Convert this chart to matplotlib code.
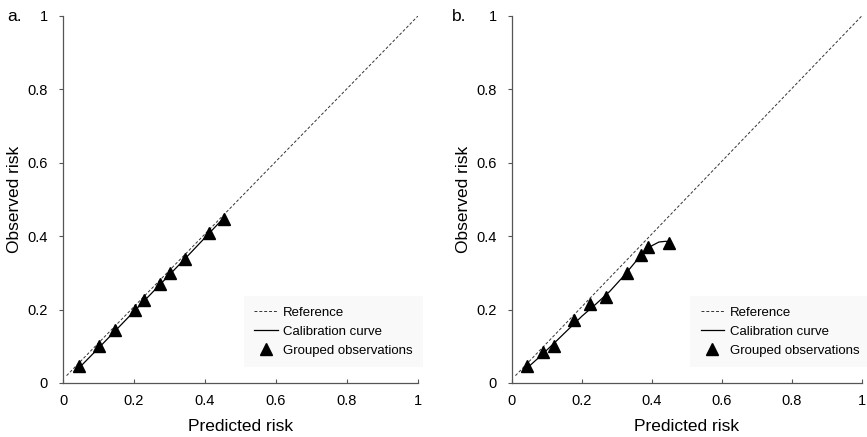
import matplotlib
matplotlib.use("Agg")
import matplotlib.pyplot as plt

plt.rcParams['font.family'] = ['Liberation Sans', 'DejaVu Sans']

# panel a: grouped observations and calibration curve
obs_a_x = [0.046, 0.101, 0.146, 0.202, 0.228, 0.272, 0.302, 0.343, 0.411, 0.452]
obs_a_y = [0.045, 0.100, 0.145, 0.199, 0.225, 0.270, 0.299, 0.338, 0.408, 0.448]
cal_a_x = [0.04, 0.10, 0.15, 0.20, 0.25, 0.30, 0.35, 0.40, 0.45]
cal_a_y = [0.036, 0.095, 0.145, 0.195, 0.245, 0.295, 0.345, 0.396, 0.447]

# panel b
obs_b_x = [0.044, 0.089, 0.120, 0.178, 0.223, 0.268, 0.330, 0.370, 0.389, 0.449]
obs_b_y = [0.046, 0.084, 0.101, 0.172, 0.214, 0.234, 0.300, 0.350, 0.370, 0.381]
cal_b_x = [0.04, 0.08, 0.12, 0.16, 0.20, 0.24, 0.28, 0.32, 0.36, 0.38, 0.40, 0.42, 0.44, 0.45]
cal_b_y = [0.038, 0.072, 0.108, 0.145, 0.182, 0.215, 0.250, 0.292, 0.338, 0.358, 0.374, 0.384, 0.386, 0.384]

ref_x = [0.01, 1.0]
ref_y = [0.02, 1.0]

ticks = [0, 0.2, 0.4, 0.6, 0.8, 1]
tick_labels = ['0', '0.2', '0.4', '0.6', '0.8', '1']

fig = plt.figure(figsize=(8.67, 4.37), dpi=100)
ax_a = fig.add_axes([0.0727, 0.1236, 0.4095, 0.840])
ax_b = fig.add_axes([0.5905, 0.1236, 0.4035, 0.840])

panels = [
    (ax_a, 'a.', 0.008, obs_a_x, obs_a_y, cal_a_x, cal_a_y, (0.49, 0.025)),
    (ax_b, 'b.', 0.521, obs_b_x, obs_b_y, cal_b_x, cal_b_y, (0.49, 0.025)),
]

for ax, lab, lab_x, ox, oy, cx, cy, leg_pos in panels:
    ax.plot(ref_x, ref_y, linestyle=(0, (3, 2)), color='#333333', lw=0.7, label='Reference')
    ax.plot(cx, cy, color='black', lw=0.9, label='Calibration curve')
    ax.plot(ox, oy, linestyle='none', marker='^', color='black', markersize=8.5,
            label='Grouped observations')

    ax.set_xlim(0, 1)
    ax.set_ylim(0, 1)
    ax.set_xticks(ticks)
    ax.set_xticklabels(tick_labels)
    ax.set_yticks(ticks)
    ax.set_yticklabels(tick_labels)
    for s in ['top', 'right']:
        ax.spines[s].set_visible(False)
    for s in ['left', 'bottom']:
        ax.spines[s].set_color('#555555')
        ax.spines[s].set_linewidth(0.9)
    ax.tick_params(axis='x', direction='in', length=3, color='#555555', labelsize=10.5, pad=8)
    ax.tick_params(axis='y', direction='out', length=3, color='#555555', labelsize=10.5, pad=8)
    ax.set_xlabel('Predicted risk', fontsize=12.5, labelpad=8)
    ax.set_ylabel('Observed risk', fontsize=12.5, labelpad=4)

    leg = ax.legend(loc='lower left', bbox_to_anchor=leg_pos, fontsize=9.5, frameon=True,
                    handlelength=1.8, handletextpad=0.4, labelspacing=0.5,
                    borderpad=0.8, fancybox=False)
    leg.get_frame().set_facecolor('#f8f8f8')
    leg.get_frame().set_edgecolor('none')
    leg.set_clip_on(False)

    fig.text(lab_x, 0.963, lab, fontsize=12.5, va='center', ha='left')

fig.savefig('out.png', dpi=100)
